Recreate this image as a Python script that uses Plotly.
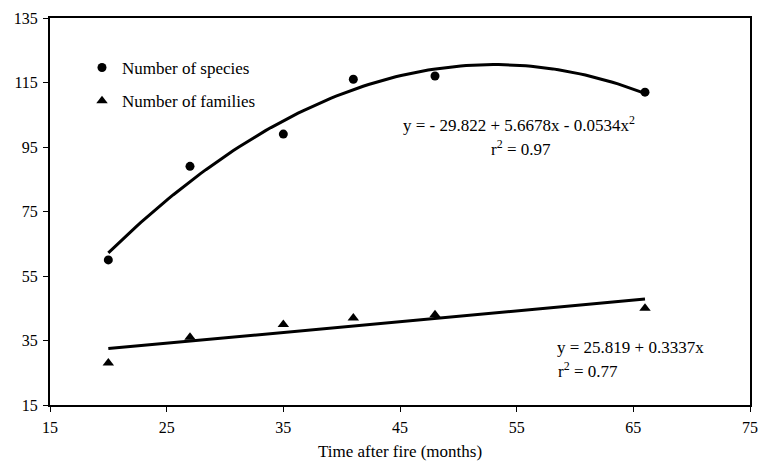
import numpy as np
import plotly.graph_objects as go

months = [20, 27, 35, 41, 48, 66]
species = [60, 89, 99, 116, 117, 112]
families = [28, 36, 40, 42, 43, 45]

# regression coefficients printed on the chart
quad_coef = [-29.822, 5.6678, -0.0534]
lin_coef = [25.819, 0.3337]

xt = np.linspace(min(months), max(months), 100)
y_quad = quad_coef[0] + quad_coef[1] * xt + quad_coef[2] * xt ** 2
y_lin = lin_coef[0] + lin_coef[1] * xt

font_family = "Liberation Serif, Times New Roman, serif"

fig = go.Figure()
fig.add_trace(go.Scatter(x=xt, y=y_quad, mode="lines", line=dict(color="black", width=3),
                         showlegend=False, hoverinfo="skip"))
fig.add_trace(go.Scatter(x=xt, y=y_lin, mode="lines", line=dict(color="black", width=3),
                         showlegend=False, hoverinfo="skip"))
fig.add_trace(go.Scatter(x=months, y=species, mode="markers", name="Number of species",
                         legendgroup="a",
                         marker=dict(symbol="circle", size=9, color="black")))
fig.add_trace(go.Scatter(x=months, y=families, mode="markers", name="Number of families",
                         legendgroup="b",
                         marker=dict(symbol="triangle-up", size=10, color="black")))

PL, PT, PW, PH = 50, 18, 700, 387
W, H = 761, 466


def px(xp):
    return (xp - PL) / PW


def py(yp):
    return (PT + PH - yp) / PH


ann_font = dict(size=17, family=font_family, color="black")
fig.add_annotation(x=px(519), y=py(124), xref="paper", yref="paper",
                   xanchor="center", yanchor="middle",
                   text="y = - 29.822 + 5.6678x - 0.0534x<sup>2</sup>", showarrow=False,
                   font=ann_font)
fig.add_annotation(x=px(521), y=py(148), xref="paper", yref="paper",
                   xanchor="center", yanchor="middle",
                   text="r<sup>2</sup> = 0.97", showarrow=False, font=ann_font)
fig.add_annotation(x=px(630), y=py(347), xref="paper", yref="paper",
                   xanchor="center", yanchor="middle",
                   text="y = 25.819 + 0.3337x", showarrow=False, font=ann_font)
fig.add_annotation(x=px(588), y=py(370), xref="paper", yref="paper",
                   xanchor="center", yanchor="middle",
                   text="r<sup>2</sup> = 0.77", showarrow=False, font=ann_font)

fig.update_layout(
    width=W, height=H,
    margin=dict(l=PL, r=W - PL - PW, t=PT, b=H - PT - PH),
    paper_bgcolor="white", plot_bgcolor="white",
    font=dict(family=font_family, size=16, color="black"),
    legend=dict(x=px(82), y=py(50), xanchor="left", yanchor="top",
                bgcolor="rgba(0,0,0,0)", tracegroupgap=8, font=dict(size=17)),
    xaxis=dict(range=[15, 75], tick0=15, dtick=10, showgrid=False, zeroline=False,
               showline=True, linecolor="black", linewidth=2, mirror=True,
               ticks="outside", ticklen=5, tickcolor="black", tickwidth=1,
               automargin=False, tickfont=dict(size=16), ticklabelstandoff=2,
               title=dict(text="Time after fire (months)", font=dict(size=17), standoff=10)),
    yaxis=dict(range=[15, 135], tick0=15, dtick=20, showgrid=False, zeroline=False,
               showline=True, linecolor="black", linewidth=2, mirror=True,
               ticks="outside", ticklen=5, tickcolor="black", tickwidth=1,
               automargin=False, tickfont=dict(size=16), ticklabelstandoff=2),
)

# remove the default page margin so the figure fills the 761x466 window exactly
fig.write_html("out.html", config={"displayModeBar": False},
               post_script="document.body.style.margin='0px';")
